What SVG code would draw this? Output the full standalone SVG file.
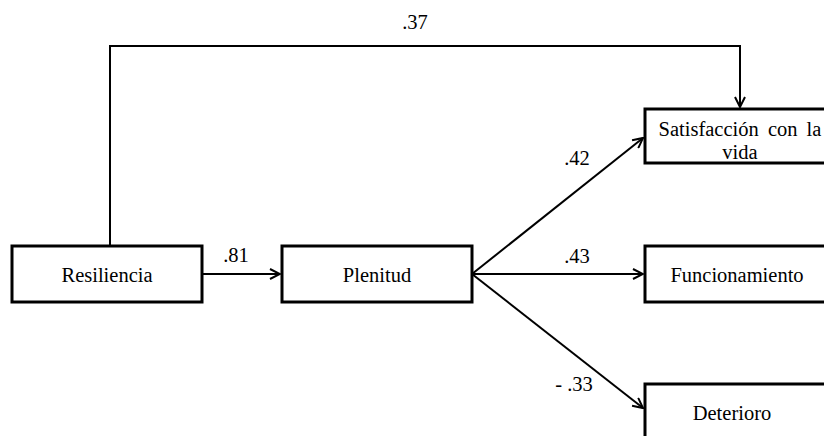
<svg xmlns="http://www.w3.org/2000/svg" width="824" height="436" viewBox="0 0 824 436">
<defs>
<marker id="ah" viewBox="0 0 12 12" refX="11" refY="6" markerWidth="12" markerHeight="12" markerUnits="userSpaceOnUse" orient="auto">
<path d="M1,1 L11,6 L1,11" fill="none" stroke="#000" stroke-width="2"/>
</marker>
<style>
.box{fill:#fff;stroke:#000;stroke-width:3}
text{font-family:'Liberation Serif','Times New Roman','DejaVu Serif',serif;font-size:20.5px;fill:#000;text-anchor:middle}
.c{fill:none;stroke:#000;stroke-width:2}
</style>
</defs>
<rect width="824" height="436" fill="#fff"/>
<g id="connectors">
<polyline class="c" points="110,246 110,46 740,46 740,107" marker-end="url(#ah)"/>
<line class="c" x1="202" y1="274" x2="280" y2="274" marker-end="url(#ah)"/>
<line class="c" x1="472" y1="274" x2="643" y2="138" marker-end="url(#ah)"/>
<line class="c" x1="472" y1="274" x2="643" y2="274" marker-end="url(#ah)"/>
<line class="c" x1="472" y1="274" x2="643" y2="408" marker-end="url(#ah)"/>
<text x="415" y="29">.37</text>
<text x="236" y="262">.81</text>
<text x="577" y="165">.42</text>
<text x="577" y="263">.43</text>
<text x="574" y="391">- .33</text>
</g>
<g id="resiliencia">
<rect class="box" x="12" y="246" width="190" height="56"/>
<text x="107" y="282">Resiliencia</text>
</g>
<g id="plenitud">
<rect class="box" x="282" y="246" width="190" height="56"/>
<text x="377" y="282">Plenitud</text>
</g>
<g id="satisfaccion">
<rect class="box" x="645" y="109" width="200" height="54"/>
<text x="740" y="136" word-spacing="4">Satisfacción con la</text>
<text x="740" y="159">vida</text>
</g>
<g id="funcionamiento">
<rect class="box" x="645" y="246" width="200" height="56"/>
<text x="737" y="282">Funcionamiento</text>
</g>
<g id="deterioro">
<rect class="box" x="645" y="384" width="200" height="70"/>
<text x="732" y="420">Deterioro</text>
</g>
</svg>
